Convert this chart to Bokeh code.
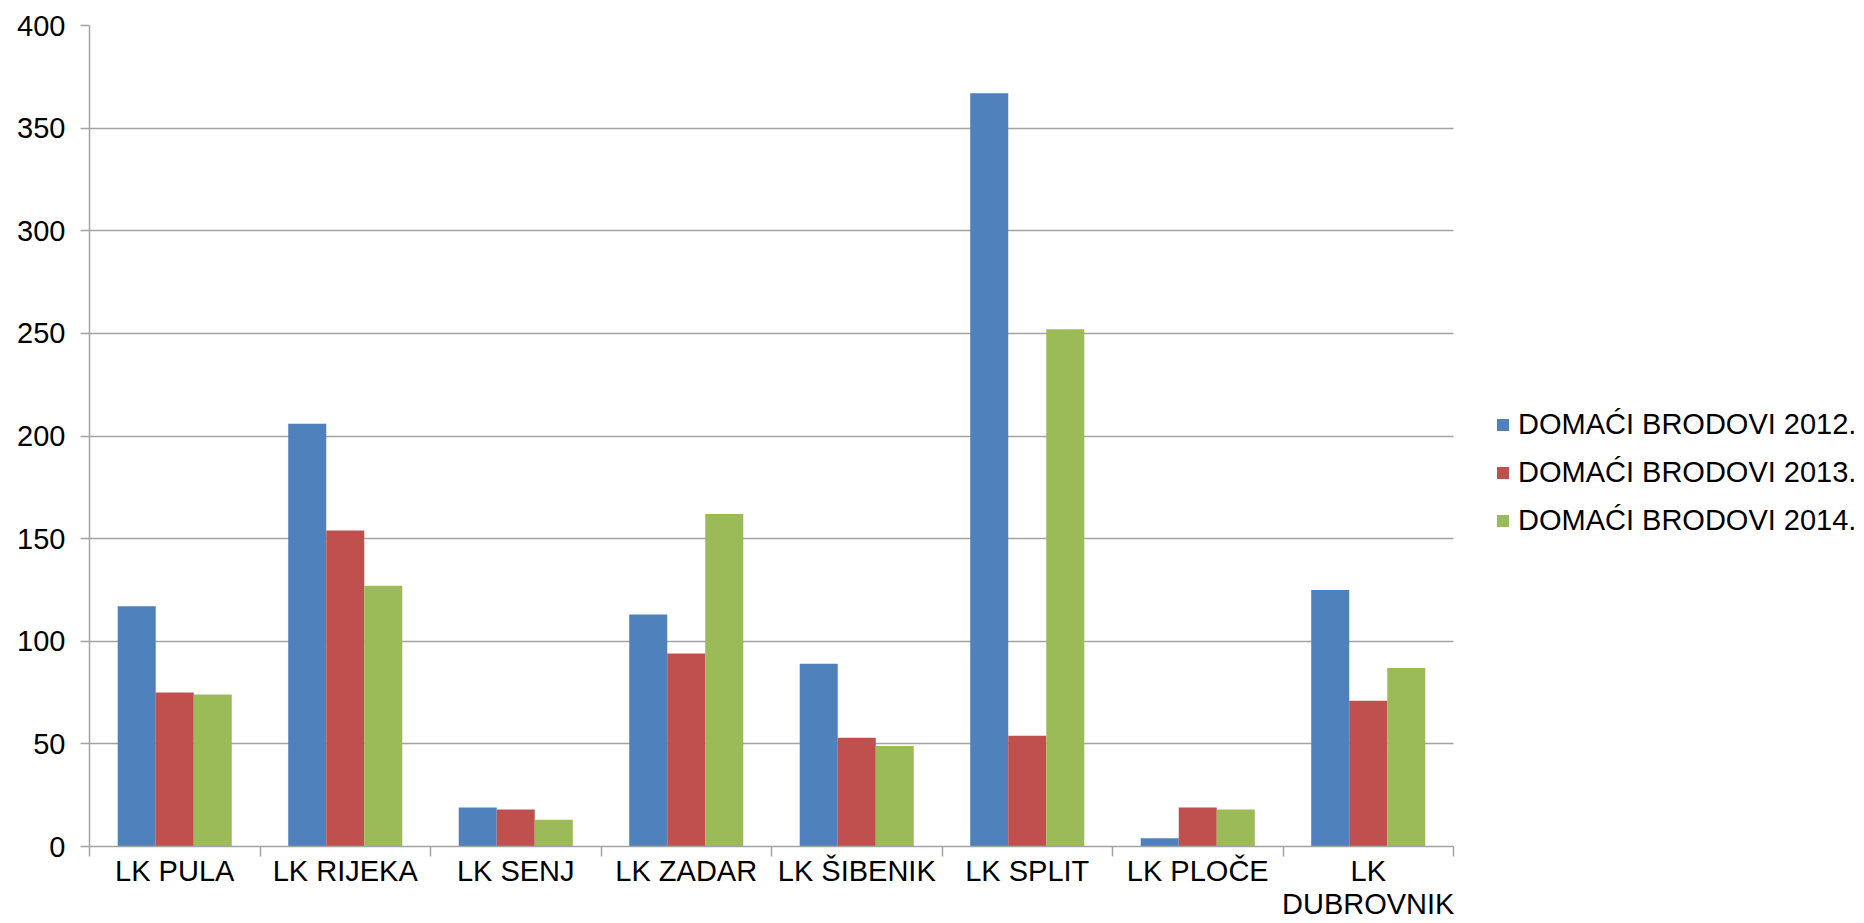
from bokeh.plotting import figure
from bokeh.models import Range1d, FixedTicker, Legend, LegendItem, ColumnDataSource
from bokeh.embed import file_html
from bokeh.resources import INLINE

categories = ["LK PULA", "LK RIJEKA", "LK SENJ", "LK ZADAR", "LK ŠIBENIK",
              "LK SPLIT", "LK PLOČE", "LK\nDUBROVNIK"]
series_names = ["DOMAĆI BRODOVI 2012.", "DOMAĆI BRODOVI 2013.", "DOMAĆI BRODOVI 2014."]
v2012 = [117, 206, 19, 113, 89, 367, 4, 125]
v2013 = [75, 154, 18, 94, 53, 54, 19, 71]
v2014 = [74, 127, 13, 162, 49, 252, 18, 87]
y_ticks = [0, 50, 100, 150, 200, 250, 300, 350, 400]
colors = ["#4F81BD", "#C0504D", "#9BBB59"]

FONT = "Liberation Sans"
FSIZE = "29px"
GRAY = "#a3a3a3"
n = len(categories)
centers = [i + 0.5 for i in range(n)]
bounds = [i for i in range(n + 1)]
bw = 0.223

W, H = 1864, 923
LEFT, TOP, BOTTOM = 89, 25, 77
AXIS_PX = 1364          # pixel length of the category axis
frame_px = W - LEFT     # frame runs to the right edge (legend lives there)
x_end = n * frame_px / AXIS_PX

p = figure(width=W, height=H, output_backend="svg", toolbar_location=None,
           x_range=Range1d(0, x_end), y_range=Range1d(0, 400),
           min_border_left=LEFT, min_border_top=TOP, min_border_right=0,
           min_border_bottom=BOTTOM)
p.outline_line_color = None
p.background_fill_color = "white"
p.border_fill_color = "white"

renderers = []
for k, (vals, col) in enumerate(zip([v2012, v2013, v2014], colors)):
    src = ColumnDataSource(dict(x=[c + (k - 1) * bw for c in centers], top=vals))
    r = p.vbar(x="x", top="top", bottom=0, width=bw, source=src,
               fill_color=col, line_color=None)
    renderers.append(r)

# x axis
xa = p.xaxis[0]
xa.bounds = (0, n)
xa.ticker = FixedTicker(ticks=centers, minor_ticks=bounds)
xa.major_label_overrides = {c: name for c, name in zip(centers, categories)}
xa.axis_line_color = GRAY
xa.axis_line_width = 1.5
xa.major_tick_line_color = None
xa.major_tick_out = 0
xa.major_tick_in = 0
xa.minor_tick_line_color = GRAY
xa.minor_tick_line_width = 1.5
xa.minor_tick_out = 10
xa.minor_tick_in = 0
xa.major_label_text_font = FONT
xa.major_label_text_font_size = FSIZE
xa.major_label_text_color = "black"
xa.major_label_text_line_height = 1.05
xa.major_label_standoff = -2

# y axis
ya = p.yaxis[0]
ya.ticker = FixedTicker(ticks=y_ticks)
ya.axis_line_color = GRAY
ya.axis_line_width = 1.5
ya.major_tick_line_color = GRAY
ya.major_tick_line_width = 1.5
ya.major_tick_out = 9
ya.major_tick_in = 0
ya.minor_tick_line_color = None
ya.major_label_text_font = FONT
ya.major_label_text_font_size = FSIZE
ya.major_label_text_color = "black"
ya.major_label_standoff = 15

p.xgrid.visible = False
yg = p.ygrid[0]
yg.ticker = FixedTicker(ticks=y_ticks)
yg.grid_line_color = GRAY
yg.grid_line_width = 1.5
if "cross_bounds" in yg.properties():
    yg.cross_bounds = (0, n)

legend = Legend(items=[LegendItem(label=s, renderers=[r]) for s, r in zip(series_names, renderers)],
                location=(1406, 309))
legend.label_text_font = FONT
legend.label_text_font_size = FSIZE
legend.label_text_color = "black"
legend.glyph_width = 15
legend.glyph_height = 15
legend.label_standoff = 8
legend.label_height = 33
legend.spacing = 15
legend.padding = 0
legend.margin = 0
legend.border_line_color = None
legend.background_fill_alpha = 0
p.add_layout(legend, "center")

open("out.html", "w").write(file_html(p, INLINE))
